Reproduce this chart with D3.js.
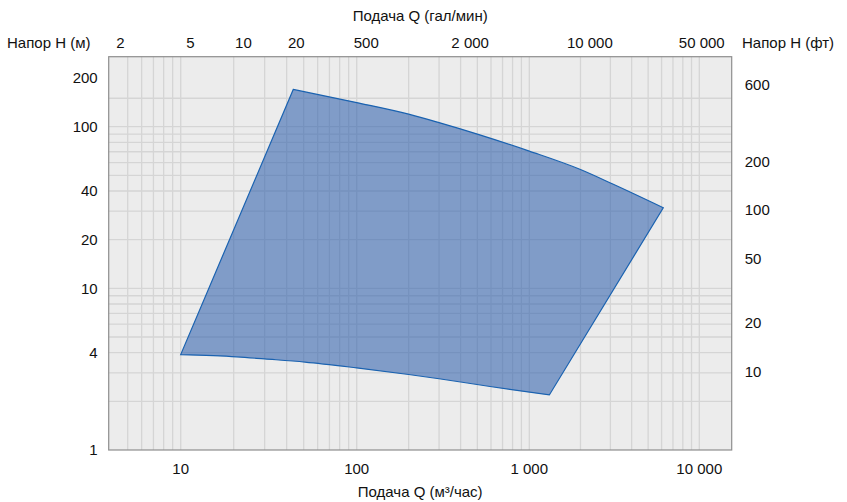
<!DOCTYPE html>
<html>
<head>
<meta charset="utf-8">
<script src="https://cdn.jsdelivr.net/npm/d3@7"></script>
<style>
  body { margin: 0; background: #fff; }
  text { font-family: "Liberation Sans", Arial, sans-serif; font-size: 15px; fill: #111; }
</style>
</head>
<body>
<div id="chart"></div>
<script>
'use strict';

// working range envelope, Q in m3/h, H in m
const topQ = [43.6, 100, 200, 300, 500, 1000, 2000, 3120, 6140];
const topH = [170, 141, 119.6, 106, 90, 70.6, 54.3, 44, 31.5];
const bottomQ = [10, 20.8, 30, 50.8, 100, 200, 300, 592, 1312];
const bottomH = [3.89, 3.77, 3.66, 3.5, 3.22, 2.93, 2.76, 2.47, 2.19];

const bottomTicks = [10, 100, 1000, 10000];
const bottomTickLabels = ['10', '100', '1 000', '10 000'];
const topTicksGpm = [20, 50, 100, 200, 500, 2000, 10000, 50000];
const topTickLabels = ['2', '5', '10', '20', '500', '2 000', '10 000', '50 000'];
const leftTicks = [1, 4, 10, 20, 40, 100, 200];
const rightTicksFt = [10, 20, 50, 100, 200, 600];

const xGrid = [5, 6, 7, 8, 9, 10, 20, 30, 40, 50, 60, 70, 80, 90,
    100, 200, 300, 400, 500, 600, 700, 800, 900,
    1000, 2000, 3000, 4000, 5000, 6000, 7000, 8000, 9000, 10000];
const yGrid = [2, 3, 4, 5, 6, 7, 8, 9, 10, 20, 30, 40, 50, 60, 70, 80, 90, 100, 150];

const GPM_PER_M3H = 4.4029;
const M_PER_FT = 0.3048;

const W = 847, H = 502;
const margin = { top: 56.7, right: 115.3, bottom: 52, left: 108.7 };
const width = W - margin.left - margin.right;
const height = H - margin.top - margin.bottom;

const svg = d3.select('#chart').append('svg')
    .attr('width', W)
    .attr('height', H);

const g = svg.append('g')
    .attr('transform', `translate(${margin.left},${margin.top})`);

// the printed grid is a little uneven, so the scale is piecewise per decade
const x = d3.scaleLog()
    .domain([10, 100, 1000, 10000])
    .range([72, 248, 420.6, 590.6]);
const y = d3.scaleLog()
    .domain([1, 271])
    .range([height, 0]);

g.append('rect')
    .attr('width', width)
    .attr('height', height)
    .style('fill', '#ececec');

g.selectAll('.vgrid').data(xGrid).enter().append('line')
    .attr('class', 'vgrid')
    .attr('x1', d => x(d)).attr('x2', d => x(d))
    .attr('y1', 0).attr('y2', height)
    .style('stroke', '#d5d5d5')
    .style('stroke-width', 1.3);

g.selectAll('.hgrid').data(yGrid).enter().append('line')
    .attr('class', 'hgrid')
    .attr('x1', 0).attr('x2', width)
    .attr('y1', d => y(d)).attr('y2', d => y(d))
    .style('stroke', '#d5d5d5')
    .style('stroke-width', 1.3);

// envelope: smooth top curve left to right, straight right side,
// smooth bottom curve right to left, straight left side
const curve = d3.line().curve(d3.curveMonotoneX);
const topPts = topQ.map((q, i) => [x(q), y(topH[i])]);
const bottomPts = bottomQ.map((q, i) => [x(q), y(bottomH[i])]).reverse();
const envelope = curve(topPts) + 'L' + curve(bottomPts).slice(1) + 'Z';

g.append('path')
    .attr('d', envelope)
    .style('fill', 'rgba(40, 91, 172, 0.55)')
    .style('stroke', '#1a62b0')
    .style('stroke-width', 1.2)
    .style('stroke-linejoin', 'miter');

g.append('rect')
    .attr('width', width)
    .attr('height', height)
    .style('fill', 'none')
    .style('stroke', '#8e8e8e')
    .style('stroke-width', 1.2);

// bottom axis labels
g.selectAll('.bt').data(bottomTicks).enter().append('text')
    .attr('x', d => x(d))
    .attr('y', height + 24)
    .attr('text-anchor', 'middle')
    .text((d, i) => bottomTickLabels[i]);

// top axis labels (gal/min)
g.selectAll('.tt').data(topTicksGpm).enter().append('text')
    .attr('x', d => x(d / GPM_PER_M3H))
    .attr('y', -8.5)
    .attr('text-anchor', 'middle')
    .text((d, i) => topTickLabels[i])
    .each(function () {
        // keep the last label inside the frame
        const b = this.getBBox();
        if (b.x + b.width > width - 7) {
            d3.select(this).attr('x', +d3.select(this).attr('x') - (b.x + b.width - (width - 7)));
        }
    });

// left axis labels (m)
g.selectAll('.lt').data(leftTicks).enter().append('text')
    .attr('x', -11)
    .attr('y', d => y(d))
    .attr('dy', '0.35em')
    .attr('text-anchor', 'end')
    .text(d => d);

// right axis labels (ft)
g.selectAll('.rt').data(rightTicksFt).enter().append('text')
    .attr('x', width + 13)
    .attr('y', d => y(d * M_PER_FT))
    .attr('dy', '0.35em')
    .text(d => d);

// axis titles
svg.append('text')
    .attr('x', margin.left + width / 2)
    .attr('y', 21)
    .attr('text-anchor', 'middle')
    .text('Подача Q (гал/мин)');

svg.append('text')
    .attr('x', margin.left + width / 2)
    .attr('y', 497)
    .attr('text-anchor', 'middle')
    .text('Подача Q (м³/час)');

svg.append('text')
    .attr('x', 7)
    .attr('y', 48)
    .text('Напор H (м)');

svg.append('text')
    .attr('x', 742)
    .attr('y', 48)
    .text('Напор H (фт)');
</script>
</body>
</html>
